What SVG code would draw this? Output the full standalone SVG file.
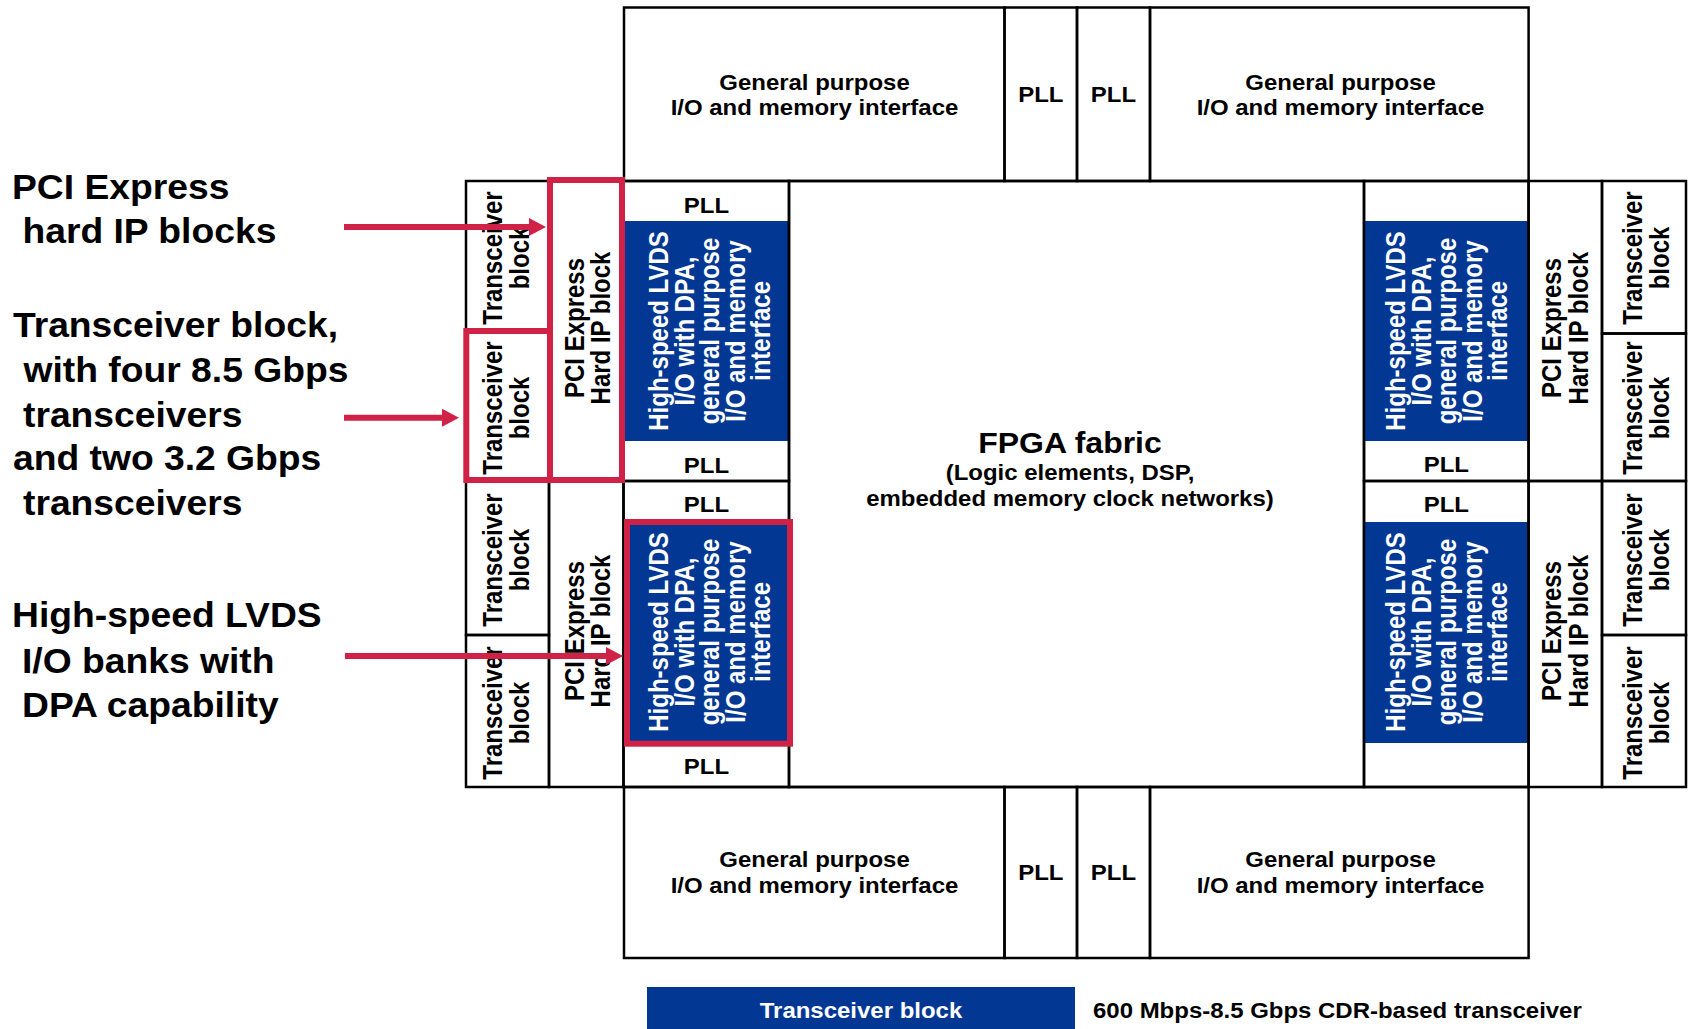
<svg xmlns="http://www.w3.org/2000/svg" width="1688" height="1029" viewBox="0 0 1688 1029">
<defs>
<style>
text{font-family:"Liberation Sans",Arial,Helvetica,sans-serif;font-weight:bold;fill:#000}
.box{fill:none;stroke:#000;stroke-width:2.5}
.blue{fill:#023894}
.t{font-size:22.2px;text-anchor:middle}
.rt{font-size:24px;text-anchor:middle}
.w{fill:#fff}
.big{font-size:29.6px;text-anchor:middle}
.lbl{font-size:34.5px}
.leg{font-size:22.2px}
.hl{fill:none;stroke:#CF2246;stroke-width:6}
.arr{stroke:#CF2246;stroke-width:6;fill:none}
</style>
<marker id="ah" markerUnits="userSpaceOnUse" markerWidth="18" markerHeight="18" refX="1" refY="9" orient="auto">
<path d="M0,0 L17,9 L0,18 Z" fill="#CF2246"/>
</marker>
</defs>
<rect width="1688" height="1029" fill="#fff"/>

<!-- top row -->
<g id="io-top-left"><rect class="box" x="624" y="7.5" width="380.5" height="173.5"/>
<text class="t" transform="translate(814.5 0) scale(1.08 1)"><tspan x="0" y="90">General purpose</tspan><tspan x="0" y="115.5">I/O and memory interface</tspan></text></g>
<g id="pll-top-1"><rect class="box" x="1004.5" y="7.5" width="72.5" height="173.5"/>
<text class="t" transform="translate(1040.8 102) scale(1.08 1)">PLL</text></g>
<g id="pll-top-2"><rect class="box" x="1077" y="7.5" width="73" height="173.5"/>
<text class="t" transform="translate(1113.5 102) scale(1.08 1)">PLL</text></g>
<g id="io-top-right"><rect class="box" x="1150" y="7.5" width="378.6" height="173.5"/>
<text class="t" transform="translate(1340.5 0) scale(1.08 1)"><tspan x="0" y="90">General purpose</tspan><tspan x="0" y="115.5">I/O and memory interface</tspan></text></g>

<!-- bottom row -->
<g id="io-bottom-left"><rect class="box" x="624" y="787" width="380.5" height="171"/>
<text class="t" transform="translate(814.5 0) scale(1.08 1)"><tspan x="0" y="867">General purpose</tspan><tspan x="0" y="893">I/O and memory interface</tspan></text></g>
<g id="pll-bottom-1"><rect class="box" x="1004.5" y="787" width="72.5" height="171"/>
<text class="t" transform="translate(1040.8 880) scale(1.08 1)">PLL</text></g>
<g id="pll-bottom-2"><rect class="box" x="1077" y="787" width="73" height="171"/>
<text class="t" transform="translate(1113.5 880) scale(1.08 1)">PLL</text></g>
<g id="io-bottom-right"><rect class="box" x="1150" y="787" width="378.6" height="171"/>
<text class="t" transform="translate(1340.5 0) scale(1.08 1)"><tspan x="0" y="867">General purpose</tspan><tspan x="0" y="893">I/O and memory interface</tspan></text></g>

<!-- left transceivers -->
<g id="xcvr-l1"><rect class="box" x="466" y="181" width="83" height="149.5"/>
<text class="rt" transform="translate(502 258) scale(1.13 1) rotate(-90)"><tspan x="0" y="0">Transceiver</tspan><tspan x="0" y="23.5">block</tspan></text></g>
<g id="xcvr-l2"><rect class="box" x="466" y="330.5" width="83" height="150.5"/>
<text class="rt" transform="translate(502 408) scale(1.13 1) rotate(-90)"><tspan x="0" y="0">Transceiver</tspan><tspan x="0" y="23.5">block</tspan></text></g>
<g id="xcvr-l3"><rect class="box" x="466" y="481" width="83" height="154"/>
<text class="rt" transform="translate(502 560) scale(1.13 1) rotate(-90)"><tspan x="0" y="0">Transceiver</tspan><tspan x="0" y="23.5">block</tspan></text></g>
<g id="xcvr-l4"><rect class="box" x="466" y="635" width="83" height="152"/>
<text class="rt" transform="translate(502 713) scale(1.13 1) rotate(-90)"><tspan x="0" y="0">Transceiver</tspan><tspan x="0" y="23.5">block</tspan></text></g>

<!-- left PCIe -->
<g id="pcie-l1"><rect class="box" x="549" y="181" width="74.5" height="300"/>
<text class="rt" transform="translate(584 328) scale(1.13 1) rotate(-90)"><tspan x="0" y="0">PCI Express</tspan><tspan x="0" y="22.6">Hard IP block</tspan></text></g>
<g id="pcie-l2"><rect class="box" x="549" y="481" width="74.5" height="306"/>
<text class="rt" transform="translate(584 631) scale(1.13 1) rotate(-90)"><tspan x="0" y="0">PCI Express</tspan><tspan x="0" y="22.6">Hard IP block</tspan></text></g>

<!-- left LVDS -->
<g id="lvds-l1"><rect class="blue" x="623.5" y="221" width="165.5" height="220"/><rect class="box" x="623.5" y="181" width="165.5" height="300"/>
<text class="t" transform="translate(706.5 212.5) scale(1.08 1)">PLL</text>
<text class="t" transform="translate(706.5 472.5) scale(1.08 1)">PLL</text>
<text class="rt w" transform="translate(668.3 331) scale(1.13 1) rotate(-90)"><tspan x="0" y="0">High-speed LVDS</tspan><tspan x="0" y="22.6">I/O with DPA,</tspan><tspan x="0" y="45.2">general purpose</tspan><tspan x="0" y="67.8">I/O and memory</tspan><tspan x="0" y="90.4">interface</tspan></text></g>
<g id="lvds-l2"><rect class="blue" x="623.5" y="522" width="165.5" height="221"/><rect class="box" x="623.5" y="481" width="165.5" height="306"/>
<text class="t" transform="translate(706.5 512) scale(1.08 1)">PLL</text>
<text class="t" transform="translate(706.5 774) scale(1.08 1)">PLL</text>
<text class="rt w" transform="translate(668.3 632) scale(1.13 1) rotate(-90)"><tspan x="0" y="0">High-speed LVDS</tspan><tspan x="0" y="22.6">I/O with DPA,</tspan><tspan x="0" y="45.2">general purpose</tspan><tspan x="0" y="67.8">I/O and memory</tspan><tspan x="0" y="90.4">interface</tspan></text></g>

<!-- fabric -->
<g id="fabric"><rect class="box" x="789" y="181" width="575" height="606"/>
<text class="big" transform="translate(1070 453) scale(1.08 1)">FPGA fabric</text>
<text class="t" transform="translate(1070 0) scale(1.08 1)"><tspan x="0" y="480">(Logic elements, DSP,</tspan><tspan x="0" y="506">embedded memory clock networks)</tspan></text></g>

<!-- right LVDS -->
<g id="lvds-r1"><rect class="blue" x="1364" y="221" width="164.6" height="220"/><rect class="box" x="1364" y="181" width="164.6" height="300"/>
<text class="t" transform="translate(1446.3 472) scale(1.08 1)">PLL</text>
<text class="rt w" transform="translate(1405 331) scale(1.13 1) rotate(-90)"><tspan x="0" y="0">High-speed LVDS</tspan><tspan x="0" y="22.6">I/O with DPA,</tspan><tspan x="0" y="45.2">general purpose</tspan><tspan x="0" y="67.8">I/O and memory</tspan><tspan x="0" y="90.4">interface</tspan></text></g>
<g id="lvds-r2"><rect class="blue" x="1364" y="522" width="164.6" height="221"/><rect class="box" x="1364" y="481" width="164.6" height="306"/>
<text class="t" transform="translate(1446.3 512.3) scale(1.08 1)">PLL</text>
<text class="rt w" transform="translate(1405 632) scale(1.13 1) rotate(-90)"><tspan x="0" y="0">High-speed LVDS</tspan><tspan x="0" y="22.6">I/O with DPA,</tspan><tspan x="0" y="45.2">general purpose</tspan><tspan x="0" y="67.8">I/O and memory</tspan><tspan x="0" y="90.4">interface</tspan></text></g>

<!-- right PCIe -->
<g id="pcie-r1"><rect class="box" x="1528.6" y="181" width="73.4" height="300"/>
<text class="rt" transform="translate(1561 328) scale(1.13 1) rotate(-90)"><tspan x="0" y="0">PCI Express</tspan><tspan x="0" y="23.5">Hard IP block</tspan></text></g>
<g id="pcie-r2"><rect class="box" x="1528.6" y="481" width="73.4" height="306"/>
<text class="rt" transform="translate(1561 631) scale(1.13 1) rotate(-90)"><tspan x="0" y="0">PCI Express</tspan><tspan x="0" y="23.5">Hard IP block</tspan></text></g>

<!-- right transceivers -->
<g id="xcvr-r1"><rect class="box" x="1602" y="181" width="84" height="152.5"/>
<text class="rt" transform="translate(1642 258) scale(1.13 1) rotate(-90)"><tspan x="0" y="0">Transceiver</tspan><tspan x="0" y="23.5">block</tspan></text></g>
<g id="xcvr-r2"><rect class="box" x="1602" y="333.5" width="84" height="147.5"/>
<text class="rt" transform="translate(1642 408) scale(1.13 1) rotate(-90)"><tspan x="0" y="0">Transceiver</tspan><tspan x="0" y="23.5">block</tspan></text></g>
<g id="xcvr-r3"><rect class="box" x="1602" y="481" width="84" height="154"/>
<text class="rt" transform="translate(1642 560) scale(1.13 1) rotate(-90)"><tspan x="0" y="0">Transceiver</tspan><tspan x="0" y="23.5">block</tspan></text></g>
<g id="xcvr-r4"><rect class="box" x="1602" y="635" width="84" height="152"/>
<text class="rt" transform="translate(1642 713) scale(1.13 1) rotate(-90)"><tspan x="0" y="0">Transceiver</tspan><tspan x="0" y="23.5">block</tspan></text></g>

<!-- highlights -->
<g id="highlights">
<rect class="hl" x="550" y="180" width="72" height="300"/>
<rect class="hl" x="466.3" y="331" width="83.7" height="149"/>
<rect class="hl" x="627" y="522" width="163" height="221.7"/>
</g>

<!-- legend -->
<g id="legend">
<rect class="blue" x="647" y="987" width="428" height="42"/>
<text class="t w" transform="translate(861 1018) scale(1.08 1)">Transceiver block</text>
<text class="leg" transform="translate(1093 1018) scale(1.08 1)">600 Mbps-8.5 Gbps CDR-based transceiver</text>
</g>

<!-- annotations -->
<g id="label-pcie"><text class="lbl" transform="scale(1.08 1)"><tspan x="11.1" y="199">PCI Express</tspan><tspan x="20.8" y="243">hard IP blocks</tspan></text></g>
<g id="label-xcvr"><text class="lbl" transform="scale(1.08 1)"><tspan x="12" y="337">Transceiver block,</tspan><tspan x="21.8" y="382">with four 8.5 Gbps</tspan><tspan x="21.3" y="427">transceivers</tspan><tspan x="12" y="470">and two 3.2 Gbps</tspan><tspan x="21.3" y="515">transceivers</tspan></text></g>
<g id="label-lvds"><text class="lbl" transform="scale(1.08 1)"><tspan x="11.1" y="627">High-speed LVDS</tspan><tspan x="20.4" y="673">I/O banks with</tspan><tspan x="20.4" y="717">DPA capability</tspan></text></g>

<!-- connectors -->
<g id="connectors">
<line class="arr" x1="344" y1="227" x2="530" y2="227" marker-end="url(#ah)"/>
<line class="arr" x1="344" y1="417.7" x2="443" y2="417.7" marker-end="url(#ah)"/>
<line class="arr" x1="345" y1="656" x2="607" y2="656" marker-end="url(#ah)"/>
</g>
</svg>
